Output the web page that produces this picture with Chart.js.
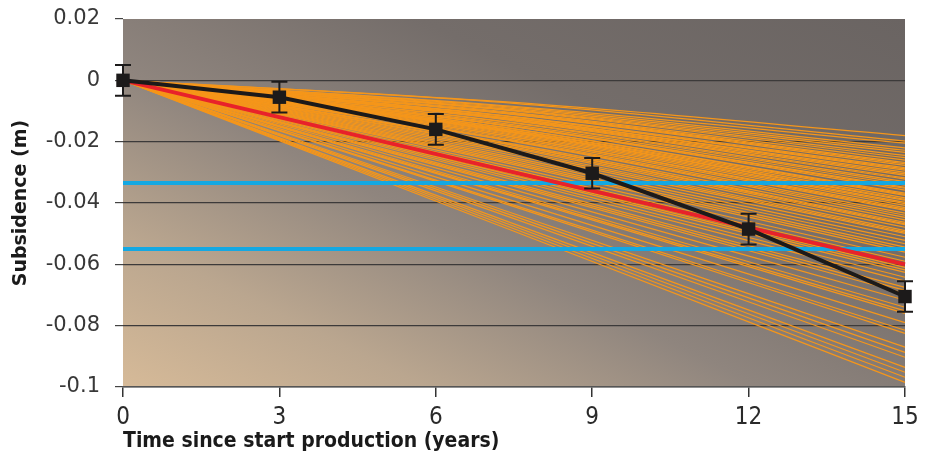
<!DOCTYPE html>
<html>
<head>
<meta charset="utf-8">
<script src="https://cdn.jsdelivr.net/npm/chart.js@4/dist/chart.umd.min.js"></script>
<style>
  html, body { margin: 0; padding: 0; background: #ffffff; }
  #wrap { width: 930px; height: 454px; position: relative; }
</style>
</head>
<body>
<div id="wrap"><canvas id="c" width="930" height="454"></canvas></div>
<script>
// Years since start of production
const years = [0, 3, 6, 9, 12, 15];
// Measured subsidence (m) with symmetric error (m)
const measured = [0, -0.0055, -0.016, -0.0303, -0.0485, -0.0705];
const measuredErr = [0.005, 0.005, 0.005, 0.005, 0.005, 0.005];
// Best-fit model prediction (m) at start and end of period
const modelYears = [0, 15];
const modelValues = [0, -0.060];
// Threshold levels (m)
const thresholds = [-0.0335, -0.055];
// Ensemble model runs: subsidence at year 7.5 and at year 15 (m)
const ensembleMid = [
  -0.0072, -0.0075, -0.0085, -0.0088, -0.0092, -0.0096, -0.0098, -0.0100, -0.0105, -0.0108,
  -0.0110, -0.0112, -0.0118, -0.0120, -0.0120, -0.0125, -0.0125, -0.0128, -0.0130, -0.0132,
  -0.0138, -0.0140, -0.0145, -0.0150, -0.0150, -0.0152, -0.0158, -0.0158, -0.0163, -0.0165,
  -0.0168, -0.0170, -0.0172, -0.0176, -0.0180, -0.0185, -0.0185, -0.0190, -0.0195, -0.0198,
  -0.0200, -0.0208, -0.0212, -0.0212, -0.0218, -0.0222, -0.0228, -0.0233, -0.0238, -0.0245,
  -0.0252, -0.0258, -0.0264, -0.0270, -0.0275, -0.0284, -0.0292, -0.0302, -0.0306, -0.0311,
  -0.0318, -0.0325, -0.0335, -0.0341, -0.0346, -0.0357, -0.0369, -0.0375, -0.0379, -0.0394,
  -0.0407, -0.0412, -0.0435, -0.0443, -0.0451, -0.0468, -0.0476, -0.0484, -0.0492
];
const ensembleEnd = [
  -0.0180, -0.0198, -0.0205, -0.0220, -0.0228, -0.0235, -0.0245, -0.0252, -0.0260, -0.0268,
  -0.0272, -0.0277, -0.0285, -0.0289, -0.0293, -0.0300, -0.0305, -0.0310, -0.0318, -0.0322,
  -0.0330, -0.0336, -0.0342, -0.0349, -0.0352, -0.0358, -0.0368, -0.0372, -0.0375, -0.0383,
  -0.0388, -0.0391, -0.0398, -0.0402, -0.0408, -0.0415, -0.0420, -0.0424, -0.0433, -0.0440,
  -0.0447, -0.0455, -0.0463, -0.0468, -0.0471, -0.0479, -0.0490, -0.0495, -0.0499, -0.0510,
  -0.0522, -0.0533, -0.0544, -0.0552, -0.0560, -0.0577, -0.0590, -0.0610, -0.0618, -0.0626,
  -0.0642, -0.0655, -0.0675, -0.0685, -0.0695, -0.0717, -0.0740, -0.0752, -0.0760, -0.0790,
  -0.0815, -0.0825, -0.0870, -0.0887, -0.0903, -0.0936, -0.0952, -0.0968, -0.0985
];
// Axis tick values
const xTicks = [0, 3, 6, 9, 12, 15];
const yTicks = [0.02, 0, -0.02, -0.04, -0.06, -0.08, -0.1];

const NARROW = '"Liberation Sans Narrow", "DejaVu Sans Condensed", "Arial Narrow", sans-serif';

const datasets = [];
// measured series (drawn on top)
datasets.push({
  label: 'measured',
  data: years.map((x, i) => ({ x: x, y: measured[i] })),
  borderColor: '#1c1a1a',
  backgroundColor: '#1c1a1a',
  borderWidth: 4,
  pointStyle: 'rect',
  pointRadius: 9.5,
  pointBorderWidth: 0,
  tension: 0,
  order: 0
});
// best-fit model
datasets.push({
  label: 'model',
  data: modelYears.map((x, i) => ({ x: x, y: modelValues[i] })),
  borderColor: '#e8222a',
  borderWidth: 4,
  pointRadius: 0,
  order: 1
});
// threshold levels
thresholds.forEach((t, k) => {
  datasets.push({
    label: 'threshold ' + (k + 1),
    data: [{ x: 0, y: t }, { x: 15, y: t }],
    borderColor: '#14a8e2',
    borderWidth: 4,
    pointRadius: 0,
    order: 2
  });
});
// ensemble runs
ensembleEnd.forEach((e, k) => {
  datasets.push({
    label: 'run ' + (k + 1),
    data: [{ x: 0, y: 0 }, { x: 7.5, y: ensembleMid[k] }, { x: 15, y: e }],
    borderColor: '#f5961a',
    borderWidth: 1.2,
    pointRadius: 0,
    cubicInterpolationMode: 'monotone',
    order: 3
  });
});

// Plot-area background: warm tan in the lower left fading to grey towards the top right
const backdrop = {
  id: 'backdrop',
  beforeDraw(chart) {
    const { ctx, chartArea: a } = chart;
    const g = ctx.createLinearGradient(a.left, a.bottom, a.left + 303, a.bottom - 607);
    g.addColorStop(0, '#d6ba98');
    g.addColorStop(0.2, '#baa68f');
    g.addColorStop(0.42, '#8f857e');
    g.addColorStop(0.68, '#746d6a');
    g.addColorStop(1, '#6a6462');
    ctx.save();
    ctx.fillStyle = g;
    ctx.fillRect(a.left, a.top, a.right - a.left, a.bottom - a.top);
    ctx.restore();
  }
};

// Error bars for the measured series, drawn just beneath its markers
const errorBars = {
  id: 'errorBars',
  beforeDatasetDraw(chart, args) {
    if (args.index !== 0) return;
    const { ctx, scales: { x, y } } = chart;
    ctx.save();
    ctx.strokeStyle = '#1c1a1a';
    ctx.lineWidth = 2;
    years.forEach((yr, i) => {
      const px = x.getPixelForValue(yr);
      const top = y.getPixelForValue(measured[i] + measuredErr[i]);
      const bot = y.getPixelForValue(measured[i] - measuredErr[i]);
      ctx.beginPath();
      ctx.moveTo(px, top); ctx.lineTo(px, bot);
      ctx.moveTo(px - 8, top); ctx.lineTo(px + 8, top);
      ctx.moveTo(px - 8, bot); ctx.lineTo(px + 8, bot);
      ctx.stroke();
    });
    ctx.restore();
  }
};

new Chart(document.getElementById('c'), {
  type: 'line',
  data: { datasets },
  plugins: [backdrop, errorBars],
  options: {
    responsive: false,
    animation: false,
    clip: false,
    layout: { padding: { left: 0, right: 25, top: 19, bottom: 0 } },
    plugins: { legend: { display: false }, tooltip: { enabled: false } },
    scales: {
      x: {
        type: 'linear',
        min: 0, max: 15,
        afterBuildTicks: s => { s.ticks = xTicks.map(v => ({ value: v })); },
        afterFit: s => { s.height = 67; s.paddingLeft = 0; s.paddingRight = 0; },
        grid: { drawOnChartArea: false, tickLength: 10, color: '#333', lineWidth: 1.5 },
        border: { display: true, color: '#555', width: 1.5 },
        ticks: {
          color: '#2a2a2a',
          padding: 6,
          font: { family: NARROW, size: 24 },
          maxRotation: 0,
          callback: v => String(v)
        },
        title: {
          display: true,
          text: 'Time since start production (years)',
          align: 'start',
          color: '#1a1a1a',
          font: { family: NARROW, size: 21, weight: 'bold' },
          padding: { top: 0, bottom: 0 }
        }
      },
      y: {
        type: 'linear',
        min: -0.1, max: 0.02,
        afterBuildTicks: s => { s.ticks = yTicks.map(v => ({ value: v })); },
        afterFit: s => { s.width = 123; s.paddingTop = 0; s.paddingBottom = 0; },
        grid: {
          tickLength: 8,
          lineWidth: 1.2,
          color: c => (c.tick && c.tick.value === 0.02) ? 'rgba(0,0,0,0)' : '#3c3a3a',
          tickColor: '#444'
        },
        border: { display: false },
        ticks: {
          color: '#383838',
          padding: 15,
          font: { family: '"DejaVu Sans", sans-serif', size: 21 },
          callback: v => String(Math.round(v * 100) / 100)
        },
        title: {
          display: true,
          text: 'Subsidence (m)',
          color: '#1a1a1a',
          font: { family: '"DejaVu Sans", sans-serif', size: 19, weight: 'bold' },
          padding: { top: 10, bottom: 0 }
        }
      }
    }
  }
});
</script>
</body>
</html>
